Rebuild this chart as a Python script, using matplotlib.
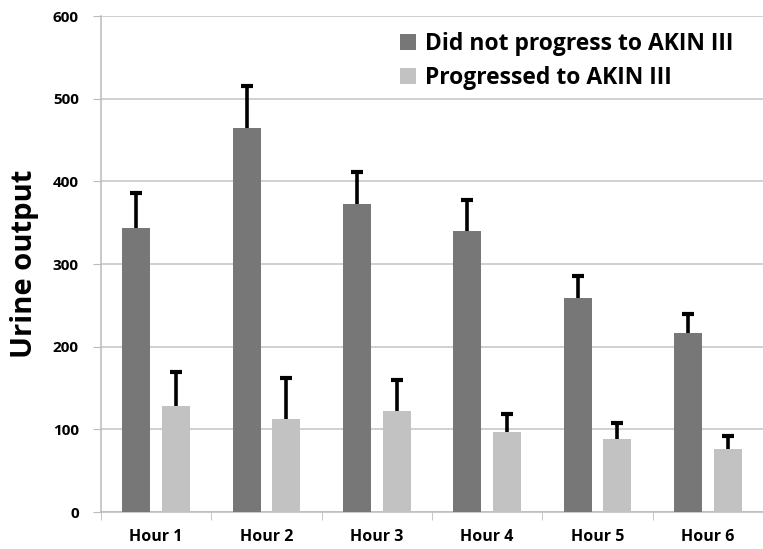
import matplotlib
matplotlib.use("Agg")
import matplotlib.pyplot as plt
import numpy as np

plt.rcParams['font.family'] = ['Open Sans', 'DejaVu Sans']

hours = ['Hour 1', 'Hour 2', 'Hour 3', 'Hour 4', 'Hour 5', 'Hour 6']
no_progress = [343, 465, 373, 340, 259, 216]
no_progress_err = [43, 50, 38, 38, 27, 23]
progressed = [128, 112, 122, 97, 88, 76]
progressed_err = [41, 50, 38, 22, 20, 16]

fig = plt.figure(figsize=(7.63, 5.49), dpi=100)
ax = fig.add_axes([101 / 763, 37 / 549, 662 / 763, 496 / 549])

x = np.arange(len(hours))
w = 0.255
off = 0.18


def bars_up(xpos, vals, errs, color, label):
    vals = np.array(vals)
    tops = vals + np.array(errs)
    ax.bar(xpos, vals, w, color=color, label=label, zorder=3)
    # only upper half of the error bar, as in the original
    ax.vlines(xpos, vals, tops, color='black', linewidth=2.6, zorder=4)
    ax.plot(xpos, tops, linestyle='none', marker='_', markersize=8,
            markeredgewidth=3, color='black', zorder=4)


bars_up(x - off, no_progress, no_progress_err, '#777777', 'Did not progress to AKIN III')
bars_up(x + off, progressed, progressed_err, '#c2c2c2', 'Progressed to AKIN III')

ax.set_xlim(-0.5, -0.5 + 662 / 112)
ax.set_ylim(0, 600)
ax.set_yticks(range(0, 601, 100))
ax.set_xticks(x)
ax.set_xticklabels(hours, fontsize=11.5, fontweight='bold')
ax.set_xticks(np.arange(-0.5, 6, 1), minor=True)
ax.tick_params(axis='x', which='major', length=0, pad=12)
ax.tick_params(axis='x', which='minor', length=6, color='#bbbbbb')
ax.tick_params(axis='y', length=6, color='#bbbbbb', labelsize=11, pad=10)
for lab in ax.get_yticklabels():
    lab.set_fontweight('bold')

ax.grid(axis='y', color='#c4c4c4', linewidth=1.1, zorder=0)
for s in ['top', 'right']:
    ax.spines[s].set_visible(False)
for s in ['left', 'bottom']:
    ax.spines[s].set_color('#bbbbbb')
    ax.spines[s].set_linewidth(1.1)

ax.set_ylabel('Urine output', fontsize=21, fontweight='bold', labelpad=10)

leg = ax.legend(loc='upper left', bbox_to_anchor=(0.42, 1.01), frameon=False,
                prop={'size': 16.5, 'weight': 'bold'}, handlelength=0.7, handleheight=0.7,
                handletextpad=0.4, labelspacing=0.45)

fig.savefig('out.png', dpi=100)
